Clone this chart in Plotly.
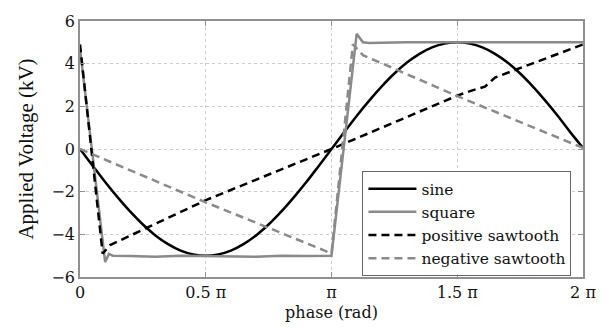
import numpy as np
import plotly.graph_objects as go

PI = np.pi

# phase values given in units of pi, voltages in kV
sine_phase = [0, 0.05, 0.1, 0.15, 0.2, 0.25, 0.3, 0.35, 0.4, 0.45, 0.5, 0.55, 0.6, 0.65, 0.7, 0.75,
              0.8, 0.85, 0.9, 0.95, 1.0, 1.05, 1.1, 1.15, 1.2, 1.25, 1.3, 1.35, 1.4, 1.45, 1.5,
              1.55, 1.6, 1.65, 1.7, 1.75, 1.8, 1.85, 1.9, 1.95, 2.0]
sine_kv = [0, -0.78, -1.55, -2.27, -2.94, -3.54, -4.05, -4.46, -4.76, -4.94, -5.0, -4.94, -4.76,
           -4.46, -4.05, -3.54, -2.94, -2.27, -1.55, -0.78, 0, 0.78, 1.55, 2.27, 2.94, 3.54, 4.05,
           4.46, 4.76, 4.94, 5.0, 4.94, 4.76, 4.46, 4.05, 3.54, 2.94, 2.27, 1.55, 0.78, 0.05]

square_phase = [0, 0.1, 0.115, 0.13, 0.2, 0.3, 0.4, 0.5, 0.6, 0.7, 0.8, 0.9, 1.0,
                1.1, 1.125, 1.15, 1.3, 1.5, 1.7, 1.9, 2.0]
square_kv = [4.7, -5.3, -4.92, -5.0, -5.02, -5.05, -5.0, -5.02, -5.04, -5.05, -5.0, -5.02, -5.0,
             5.4, 5.0, 4.97, 5.0, 5.0, 5.0, 5.0, 5.0]

possaw_phase = [0, 0.09, 0.12, 0.5, 1.0, 1.5, 1.56, 1.61, 1.65, 2.0]
possaw_kv = [4.9, -4.9, -4.5, -2.4, 0.0, 2.5, 2.75, 2.92, 3.35, 4.9]

negsaw_phase = [0, 0.5, 0.97, 1.0, 1.085, 1.125, 1.5, 2.0]
negsaw_kv = [0, -2.5, -4.75, -4.9, 4.9, 4.4, 2.48, 0.05]

x_tick_vals = [0, 0.5, 1.0, 1.5, 2.0]
x_tick_text = ["0", "0.5 π", "π", "1.5 π", "2 π"]
y_tick_vals = [-6, -4, -2, 0, 2, 4, 6]
y_tick_text = ["−6", "−4", "−2", "0", "2", "4", "6"]

GRAY = "#8a8a8a"
FONT = "DejaVu Serif"
FONT_Y = "Liberation Serif"

def rad(v):
    return [p * PI for p in v]

fig = go.Figure()
fig.add_trace(go.Scatter(x=rad(sine_phase), y=sine_kv, mode="lines", name="sine",
                         line=dict(color="black", width=2.5, shape="spline")))
fig.add_trace(go.Scatter(x=rad(square_phase), y=square_kv, mode="lines", name="square",
                         line=dict(color=GRAY, width=2.5)))
fig.add_trace(go.Scatter(x=rad(possaw_phase), y=possaw_kv, mode="lines", name="positive sawtooth",
                         line=dict(color="black", width=2.5, dash="8px,5px")))
fig.add_trace(go.Scatter(x=rad(negsaw_phase), y=negsaw_kv, mode="lines", name="negative sawtooth",
                         line=dict(color=GRAY, width=2.5, dash="8px,5px")))

axis_common = dict(showline=True, linecolor="#909090", linewidth=1.5, mirror="ticks",
                   ticks="inside", ticklen=5, tickcolor="#909090",
                   showgrid=True, gridcolor="#cccccc", griddash="dot", gridwidth=1,
                   zeroline=False, tickfont=dict(family=FONT, size=16, color="#111"))

fig.update_xaxes(range=[0, 2 * PI], tickvals=[v * PI for v in x_tick_vals], ticktext=x_tick_text,
                 title=dict(text="phase (rad)", font=dict(family=FONT, size=16, color="#111"), standoff=6),
                 **axis_common)
fig.update_yaxes(range=[-6, 6], tickvals=y_tick_vals, ticktext=y_tick_text,
                 title=dict(text="Applied Voltage (kV)", font=dict(family=FONT_Y, size=21, color="#111"), standoff=12),
                 **axis_common)

fig.update_layout(
    width=608, height=331, margin=dict(l=80, r=24, t=19, b=46),
    plot_bgcolor="white", paper_bgcolor="white",
    showlegend=True,
    legend=dict(x=0.5615, y=0.4135, xanchor="left", yanchor="top",
                bgcolor="white", bordercolor="#666", borderwidth=1,
                font=dict(family=FONT, size=15.5, color="#111"),
                tracegroupgap=0, itemwidth=48),
)

fig.write_html("out.html")
